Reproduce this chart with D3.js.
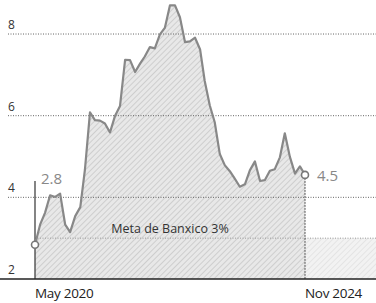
<!DOCTYPE html>
<html>
<head>
<meta charset="utf-8">
<script src="https://cdn.jsdelivr.net/npm/d3@7"></script>
<style>
  body { margin: 0; background: #fff; }
  text { font-family: "Open Sans", "DejaVu Sans", sans-serif; }
</style>
</head>
<body>
<div id="chart"></div>
<script>
// monthly inflation, May 2020 .. Nov 2024
var startMonth = new Date(2020, 4, 1);
var inflation = [2.84, 3.33, 3.62, 4.05, 4.01, 4.09, 3.33, 3.15,
    3.54, 3.76, 4.67, 6.08, 5.89, 5.88, 5.81, 5.59, 6.00, 6.24, 7.37, 7.36,
    7.07, 7.28, 7.45, 7.68, 7.65, 7.99, 8.15, 8.70, 8.70, 8.41, 7.80, 7.82,
    7.91, 7.62, 6.85, 6.25, 5.84, 5.06, 4.79, 4.64, 4.45, 4.26, 4.32, 4.66,
    4.88, 4.40, 4.42, 4.65, 4.69, 4.98, 5.57, 4.99, 4.58, 4.76, 4.55];
var yTicks = [2, 4, 6, 8];
var target = 3;
var xLabels = ['May 2020', 'Nov 2024'];
var endLabels = ['2.8', '4.5'];

var data = inflation.map(function(v, i) {
    return { date: d3.timeMonth.offset(startMonth, i), value: v };
});

const W = 376, H = 303;
var svg = d3.select('#chart').append('svg')
    .attr('width', W).attr('height', H);

var x = d3.scaleTime()
    .domain([data[0].date, data[data.length - 1].date])
    .range([35, 305]);
var y = d3.scaleLinear().domain([2, 9]).range([279, -6.8]);

// hatch pattern
var pat = svg.append('defs').append('pattern')
    .attr('id', 'hatch')
    .attr('patternUnits', 'userSpaceOnUse')
    .attr('width', 4).attr('height', 4)
    .attr('patternTransform', 'rotate(45)');
pat.append('rect').attr('width', 4).attr('height', 4).attr('fill', '#e8e8e8');
pat.append('line').attr('x1', 0).attr('y1', 0).attr('x2', 0).attr('y2', 4)
    .attr('stroke', '#c6c6c6').attr('stroke-width', 1.5);

// band under the target
svg.append('rect')
    .attr('x', x(data[0].date)).attr('y', y(target))
    .attr('width', W - x(data[0].date)).attr('height', y(2) - y(target))
    .attr('fill', 'url(#hatch)').attr('opacity', 0.55);

// area
var area = d3.area().x(d => x(d.date)).y0(y(2)).y1(d => y(d.value));
svg.append('path').datum(data)
    .attr('d', area).attr('fill', 'url(#hatch)');

// gridlines
svg.selectAll('.grid')
    .data(yTicks.filter(d => d > 2))
    .enter().append('line')
    .attr('x1', 8).attr('x2', W)
    .attr('y1', d => y(d)).attr('y2', d => y(d))
    .attr('stroke', '#666').attr('stroke-width', 1)
    .attr('stroke-dasharray', '1,1.5');

svg.selectAll('.ytick')
    .data(yTicks)
    .enter().append('text')
    .attr('x', 8).attr('y', d => y(d) - 5)
    .attr('font-size', 12).attr('fill', '#333')
    .text(d => d);

// target line
svg.append('line')
    .attr('x1', x(data[0].date)).attr('x2', W)
    .attr('y1', y(target)).attr('y2', y(target))
    .attr('stroke', '#999').attr('stroke-dasharray', '1,1.5');
svg.append('text')
    .attr('x', 170).attr('y', y(target) - 5)
    .attr('text-anchor', 'middle')
    .attr('font-size', 12.5).attr('fill', '#333')
    .text('Meta de Banxico 3%');

// marker lines
svg.append('line')
    .attr('x1', x(data[0].date)).attr('x2', x(data[0].date))
    .attr('y1', 181).attr('y2', y(2))
    .attr('stroke', '#333').attr('stroke-width', 1.2);
var xe = x(data[data.length - 1].date);
svg.append('line')
    .attr('x1', xe).attr('x2', xe)
    .attr('y1', y(inflation[inflation.length - 1])).attr('y2', y(2))
    .attr('stroke', '#555').attr('stroke-width', 1)
    .attr('stroke-dasharray', '2,1');

// line
var line = d3.line().x(d => x(d.date)).y(d => y(d.value));
svg.append('path').datum(data)
    .attr('d', line).attr('fill', 'none')
    .attr('stroke', '#888').attr('stroke-width', 2.2)
    .attr('stroke-linejoin', 'round');

// bottom axis
svg.append('line')
    .attr('x1', 0).attr('x2', W)
    .attr('y1', y(2)).attr('y2', y(2))
    .attr('stroke', '#222').attr('stroke-width', 1.6);

// end points
var ends = [data[0], data[data.length - 1]];
svg.selectAll('.dot')
    .data(ends)
    .enter().append('circle')
    .attr('cx', d => x(d.date)).attr('cy', d => y(d.value))
    .attr('r', 3.5)
    .attr('fill', '#fff').attr('stroke', '#777').attr('stroke-width', 1.6);

svg.append('text')
    .attr('x', 41).attr('y', 184)
    .attr('font-size', 15).attr('fill', '#888')
    .text(endLabels[0]);
svg.append('text')
    .attr('x', xe + 12).attr('y', y(inflation[inflation.length - 1]) + 6)
    .attr('font-size', 15).attr('fill', '#888')
    .text(endLabels[1]);

svg.selectAll('.xlab')
    .data([data[0].date, data[data.length - 1].date])
    .enter().append('text')
    .attr('x', d => x(d)).attr('y', 298)
    .attr('font-size', 13.5).attr('fill', '#222')
    .attr('letter-spacing', -0.3)
    .text((d, i) => xLabels[i]);
</script>
</body>
</html>
